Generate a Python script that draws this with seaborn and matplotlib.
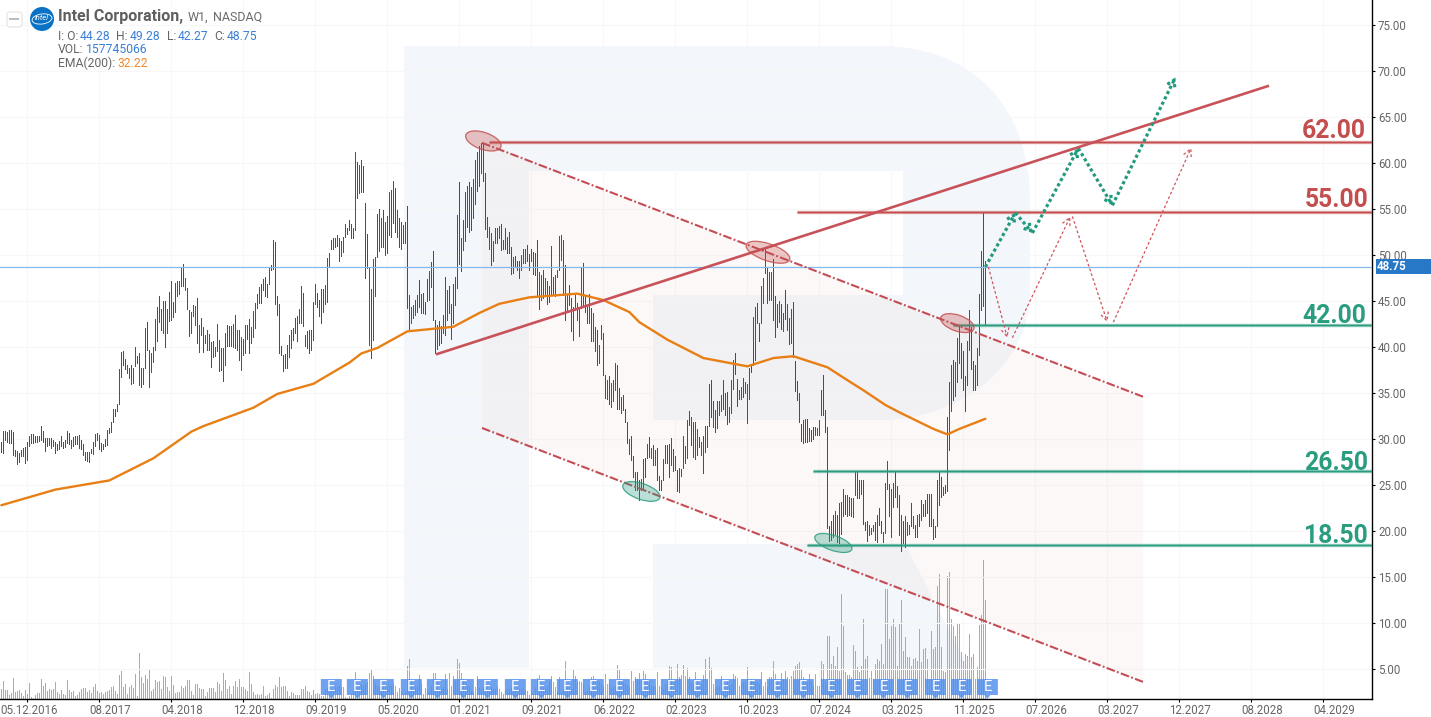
import numpy as np
import matplotlib
matplotlib.use("Agg")
import matplotlib.pyplot as plt
import seaborn as sns
from matplotlib.patches import PathPatch, Polygon, Ellipse, Rectangle, Circle, FancyBboxPatch
from matplotlib.path import Path
from matplotlib.transforms import Affine2D, IdentityTransform

# ---------- weekly bars (high / low / direction) ----------
highs_1 = [29.7,30.9,30.9,30.8,31.0,31.0,30.8,28.8,28.7,28.5,
           28.8,29.0,29.1,29.7,30.3,30.5,30.5,30.3,30.3,30.3,
           31.4,30.9,30.1,30.1,30.1,30.1,29.9,29.7,29.5,29.8,
           30.3,29.7,29.9,30.9,30.7,29.9,30.2,30.3,30.3,30.4,
           29.9,29.5,28.6,28.6,28.6,28.9,29.7,30.5,30.6,30.4,
           29.6,29.5,30.0,31.0,31.2,31.8,33.3,33.3,33.8,37.6,
           39.5,39.6,38.7,38.0,37.7,38.0,37.7,40.0,39.0,39.3,
           37.7,37.7,42.1,42.7,39.7,39.4,40.0,43.0,44.3,45.5,
           44.1,45.0,45.0,44.1,46.0,47.2,44.9,47.0,47.2,47.2,
           48.6,49.0,47.5,46.4,44.0,43.8,44.6,44.5,45.3,42.4,
           43.2,42.2,41.3,41.9,41.4,40.5,40.6,40.0,42.5,40.8,
           39.9,39.9,41.5,42.4,42.3,42.3,42.5,43.5,41.9,41.9,
           41.1,40.9,42.4,42.4,43.0,42.2,43.9,44.8,45.8,46.5,
           46.8,47.4,47.6,46.8,48.7,48.9,51.6,51.4,45.5,44.7,
           40.1,39.1,39.2,40.2,41.3,41.9,42.1,43.1,43.4,44.1,
           46.6,45.9,41.3,41.7,41.8,41.9,44.9,46.8,45.9,45.1,
           46.3,46.3,46.7,49.7,50.2,51.6]
lows_1 = [28.6,28.5,29.9,29.7,29.6,29.6,28.3,28.2,27.3,27.5,
          28.1,28.2,27.4,27.7,29.2,29.6,29.6,29.7,29.7,29.8,
          29.9,29.7,28.7,29.2,29.3,29.0,29.2,28.5,28.8,28.9,
          29.2,29.0,29.1,29.6,29.5,29.0,29.2,29.5,29.5,29.0,
          28.9,28.3,27.7,27.6,27.5,28.5,28.4,29.2,29.9,28.9,
          28.7,28.9,29.2,29.3,30.7,30.8,31.9,32.5,33.0,33.8,
          36.7,38.0,37.6,37.2,36.6,36.0,36.1,37.9,38.3,35.9,
          35.7,36.0,37.7,39.7,35.6,37.3,38.4,39.7,40.6,42.7,
          41.8,41.5,40.0,41.5,42.8,42.9,43.3,43.8,45.5,45.8,
          46.6,46.6,46.2,44.1,41.2,41.5,43.4,42.4,40.4,39.5,
          41.3,39.5,40.4,39.7,39.7,37.8,38.9,39.0,39.6,37.4,
          37.5,36.3,38.0,40.1,40.1,40.1,40.0,39.9,39.7,38.6,
          37.5,39.1,39.3,40.9,39.4,40.4,41.1,42.1,44.2,44.8,
          44.8,46.2,45.5,45.4,46.9,48.4,48.5,44.7,43.5,39.3,
          39.1,37.4,37.7,37.7,38.9,39.9,40.8,41.5,40.6,42.6,
          42.6,42.3,40.1,39.9,39.4,39.7,40.8,44.7,44.4,43.4,
          42.6,43.8,44.7,44.9,48.8,50.7]
moves_1 = ("rgrggrrrrg" "ggrgggrrgg" "grrggrgrrg" "grgrrggggg" "rrrggrggrr" "rggggggrgg"
           "grrgrrggrr" "rggrrggggr" "rgrgrgrggg" "grgrrgggrg" "grggrrgggr" "rgggrggrgr"
           "grgrrggggg" "rgrggrgrrr" "rgrgggrrgg" "grrrrgggrr" "rggggg")

highs_2 = [51.8,51.9,52.2,51.8,51.5,52.0,53.4,52.9,53.8,53.4,
           52.9,61.2,60.1,59.8,60.3,59.7,55.6,52.3,48.7,46.3,
           49.6,49.8,54.5,55.0,54.0,54.9,53.6,54.2,56.9,57.1,
           58.0,57.3,54.9,54.0,53.6,53.3,53.6,55.3,45.6,44.4,
           44.6,45.1,45.6,47.3,45.8,45.9,44.9,47.4,48.3,49.2,
           50.4,42.9,42.4,42.8,42.3,43.5,47.6,46.2,46.6,44.7,
           46.9,47.6,54.4,57.9,51.9,53.8,56.8,57.5,57.9,57.4,
           58.3,60.3,61.2,61.8,62.2]
lows_2 = [50.7,50.9,51.0,49.3,49.9,50.3,52.0,52.3,52.7,51.8,
          51.9,52.7,56.2,56.7,56.9,56.8,47.5,48.6,40.2,38.8,
          40.8,45.5,49.8,50.4,50.9,50.9,50.0,50.2,52.2,52.0,
          53.5,52.5,52.0,50.9,50.7,51.3,51.3,44.2,41.8,42.6,
          43.2,43.5,43.8,44.4,43.7,43.7,43.6,45.0,45.1,46.5,
          42.9,39.3,39.8,40.2,40.4,41.5,41.3,42.9,43.7,40.9,
          42.6,44.6,46.4,49.0,48.3,50.5,51.5,53.0,52.5,52.7,
          54.0,55.5,57.0,57.5,58.9]
moves_2 = ("rggrgggrrr" "ggrggrrrgr" "gggggrgrgr" "grgrgggrrg" "gggrggrggg"
           "rrgrrgggrg" "rggrrgggrr" "gggrg")

highs_3 = [62.1,58.9,54.1,53.0,52.4,51.5,52.9,52.9,53.2,53.4,
           51.6,52.9,52.0,52.5,50.9,49.8,49.9,49.3,49.3,50.0,
           50.6,50.6,51.1,50.1,50.7,50.3,50.2,51.6,48.2,47.8,
           48.4,47.5,47.2,46.6,51.0,47.6,47.8,48.4,52.1,52.2,
           51.6,48.9,45.6,46.7,45.3,44.4,45.8,44.8,44.4,48.6,
           49.1,45.6,44.6,45.8,44.2,43.7,42.2,41.9,40.2,42.4,
           41.5]
lows_3 = [58.0,52.8,52.0,50.7,48.9,49.3,51.3,51.3,51.8,50.5,
          50.6,50.7,50.2,50.2,47.9,48.0,48.8,48.4,47.5,48.4,
          49.1,49.1,49.3,48.4,49.3,47.9,47.8,45.5,44.1,45.1,
          45.3,45.5,44.7,44.9,45.6,45.6,45.5,47.6,48.4,49.5,
          45.7,42.9,44.0,44.6,41.7,40.8,44.0,42.9,41.2,44.2,
          44.6,43.8,42.6,42.6,40.7,40.7,39.6,38.0,38.3,40.9,
          37.0]
moves_3 = "rrrgrggggr" "ggrrrggrrg" "grrgrrgrrg" "rgrrgrgggg" "rrgrrggrgg" "rrrgrgrrgr" "r"

highs_4 = [37.0,36.4,36.8,36.1,36.4,38.3,38.0,35.5,34.6,34.8,
           33.3,31.9,30.0,30.3,28.2,26.4,26.4,25.5,25.7,27.8,
           27.9,29.5,30.2,29.0,29.4,28.8,29.0,26.0,25.5,27.8,
           29.4,29.4,29.5,30.1,28.9,28.1,26.6,26.8,26.7,30.3,
           29.2,32.1,33.0,32.4,31.9,31.9,31.1,30.2,29.7,30.3,
           31.4,31.4,36.0,36.4,34.1,33.2,34.1,34.1,34.8,36.4,
           35.0,35.1,33.5,36.4,38.6,39.4,36.5,35.3,35.7,36.6,
           36.2,36.0,37.7,38.0,43.3,44.3,44.8,42.6,46.6,47.5,
           50.7,48.7,48.1,48.1,49.6,45.5,44.7,45.0,44.7,43.7,
           46.2,44.7,43.1,44.1,44.9,38.5,36.3,35.0,31.6,32.1,
           32.2,32.2,31.2,31.0,31.3,31.3,31.2,32.1,35.3,37.0,
           33.2,31.3,20.5,21.1,21.7,22.2,21.7,23.0,23.1,24.6,
           23.9,23.9,23.7,23.6,23.6,26.5,26.4,25.5,25.5,25.5,
           21.0,21.1,20.6,20.3,20.6,21.0,21.7,22.5,21.1,19.9,
           25.2,27.6,25.1,24.6,25.2,26.4,24.9,23.9,21.7,21.1,
           21.6,21.0,20.7,23.0,21.6,20.7,21.7,21.9,23.4,22.9,
           23.4,24.0,24.0,24.0,21.3,20.5,25.5,26.5,25.9,24.8,
           25.0,32.4,36.2,38.0,38.6,38.4]
lows_4 = [34.5,34.4,33.8,33.5,34.1,35.3,33.3,33.3,32.8,33.2,
          31.8,29.6,28.4,27.7,25.9,24.5,24.5,23.4,24.5,24.6,
          25.9,27.9,28.0,27.9,27.2,27.2,25.5,24.5,24.5,25.5,
          27.4,27.4,25.9,27.2,26.5,26.6,24.4,24.2,26.0,26.8,
          27.4,27.9,31.5,29.4,28.0,27.8,28.3,29.1,28.3,26.3,
          28.6,29.1,31.4,32.4,31.3,30.8,31.2,32.6,33.0,33.3,
          32.6,31.6,31.9,32.8,35.4,37.1,33.6,34.4,34.3,34.6,
          35.0,31.7,34.4,37.3,38.0,38.6,42.6,40.7,42.6,44.8,
          48.0,44.8,45.1,45.1,42.9,41.1,42.2,42.7,42.0,41.7,
          43.0,41.9,40.3,40.4,38.9,35.2,34.2,31.8,29.8,29.6,
          29.7,29.7,29.8,29.8,30.0,30.4,30.4,30.4,32.6,32.6,
          30.8,20.3,18.9,19.0,19.4,19.7,18.8,18.7,19.7,21.6,
          21.9,21.6,21.7,21.6,21.5,23.9,23.6,23.6,24.0,20.8,
          20.1,18.9,19.6,19.7,20.0,19.0,18.8,20.7,19.8,18.8,
          19.8,24.6,21.6,19.4,22.6,23.7,22.6,19.6,17.8,18.7,
          18.3,19.6,19.7,20.5,20.3,19.4,19.4,20.5,21.2,21.6,
          21.6,22.0,20.5,20.5,19.1,19.4,20.5,22.8,23.7,23.9,
          24.1,24.3,28.8,33.0,34.2,34.7]
moves_4 = ("rgrgggrrgr" "rrgrrrrrgg" "rgrgrgrrrg" "grrgrgrggg" "rgrrgggrgr" "gggrgrgggr"
           "rrgggrrggr" "gggrgggrgg" "grggrrggrg" "rgrgrrrrrr" "rrgrrggggr" "rrrgrgrggg"
           "rgrgggrrgr" "rrgggrgrrg" "ggrgrrrrgr" "ggrrgrgrgg" "rgrrrgggrg" "rgggrg")

highs_5 = [41.0,42.4,40.4,39.6,36.8,40.6,44.0,42.2,38.5,38.0,39.9,45.8,50.4,54.6,49.3]
lows_5 = [36.2,38.3,36.6,35.3,33.0,35.9,39.7,37.6,35.3,35.3,35.9,39.1,44.0,44.5,42.4]
moves_5 = "ggrrrggrrrgggrg"

# ---------- volume (relative heights, axis carries no labels) ----------
volume_1 = [30,55,27,27,12,18,63,22,25,27,17,8,27,15,48,6,3,12,18,18,60,38,48,25,30,27,30,50,20,14,
            27,15,12,57,27,20,23,8,12,20,30,33,33,20,28,18,35,45,23,18,20,14,20,25,27,35,40,25,15,72,
            85,35,45,15,35,42,33,75,8,138,66,48,72,60,88,25,30,57,52,55,30,70,65,35,25,70,42,18,22,22,
            40,33,38,57,57,25,12,45,45,33,30,30,10,22,33,33,33,22,50,45,25,78,57,30,40,15,40,55,35,60,
            35,35,30,25,82,45,22,13,15,12,15,38,10,13,18,3,30,42,35,65,35,38,38,25,10,22,18,12,12,12,
            30,30,38,25,22,12,27,14]
volume_2 = [18,15,10,10,30,32,28,30,30,35,35,38,35,35,5,3,10,15,25,80,40,40,45,40,45,50,78,90,68,45,
            40,35,40,35,40,35,40,40,45,40,20,33,20,15,20,100,120,50,30,35,40,72,45,15,33,25,20,40,78,78,
            50,30,30,35,75,30,78,40,68,55,120,108,78,60,50,40,40,25,20,35,68,33,30,35,30,35,30,35,30,30,
            35,30,20,14,25,30,30,35,30,30,35,30,30,35,28,25,12,18,15,35,62,72,45,40,30,40,50,70,50,35,
            20,65]
volume_3 = [20,30,115,35,35,30,88,68,50,55,50,45,20,25,35,65,70,60,55,50,45,40,75,45,45,30,35,40,102,88,
            60,50,45,40,35,85,55,65,60,78,55,85,75,60,50,40,40,40,82,40,35,30,45,55,98,95,50,55,105,65,
            72,102,70,92,65,50,45,80,50,45,45,72,120,60,125,92,45,35,35,40,70,50,45,50,40,45,75,68,62,40,
            45,50,50,95,50,60,52,50,50,45,82,40,50,35,65,65,115,75,50,40,78,60,85,65,60,70,85,100,105,110]
volume_4 = [90,65,60,50,75,50,40,75,40,40,115,105,50,190,190,105,130,100,157,85,315,218,80,72,72,65,163,145,95,80,
            100,240,120,130,62,85,60,105,120,115,165,105,330,330,180,220,240,215,100,225,297,145,185,125,125,100,120,123,115,210,
            110,150,152,120,60,205,150,155,340,375,155,85,80,370,380,240,220,190,225,225,140,115,135,130,195,125,135,60,95,222,
            253,418,298]

# ---------- EMA(200) ----------
ema_weeks = [0,27,54,76,95,101,126,138,156,174,180,188,203,226,239,249,264,288,301,314,319,333,351,373,386,396,413,423,431,442,449,466,473,479,492]
ema_values = [22.8,24.5,25.5,27.9,30.8,31.4,33.4,34.9,36.0,38.3,39.3,39.9,41.7,42.2,43.7,44.7,45.4,45.8,45.1,43.8,42.7,40.8,38.8,37.9,38.8,39.0,37.8,36.4,35.3,33.7,32.9,31.1,30.5,31.1,32.2]

# ---------- analyst drawings ----------
level_starts = [244, 398, 476, 406, 403]
level_prices = [62.3, 54.7, 42.4, 26.5, 18.5]
level_names = ["62.00", "55.00", "42.00", "26.50", "18.50"]
level_colors = ["#c44d4d", "#c44d4d", "#2a9d80", "#2a9d80", "#2a9d80"]
level_label_right = [1366, 1368, 1366, 1368, 1368]
level_label_base = [138, 207, 323, 470, 543]
trend_weeks = [217.3, 633.8]
trend_prices = [39.2, 68.4]
channel_weeks = [240.3, 570.8]
channel_upper = [62.2, 34.6]
channel_lower = [31.2, 3.6]
oval_weeks = [241, 383.3, 478, 320, 416]
oval_prices = [62.4, 50.3, 42.6, 24.3, 18.7]
oval_sizes = [(37, 17), (46, 17), (35, 16), (39, 16), (39, 15)]
oval_colors = ["#c44d4d", "#c44d4d", "#c44d4d", "#2a9d80", "#2a9d80"]
path_weeks = [492, 507, 515.5, 538.5, 555.5, 587]
path_prices = [48.7, 54.6, 52.4, 61.6, 55.4, 69.3]
alt_segments = [((493.5, 48.7), (503, 41.0)), ((505.5, 41.0), (534.5, 54.2)),
                ((535.5, 54.2), (553, 42.7)), ((556, 42.7), (595, 61.7))]
earnings_weeks = [165,178,191,205,218,231,243,257,270,283,296,309,322,335,348,362,375,388,401,415,428,441,453,467,480,493]

tick_weeks = list(range(13, 13 + 36 * 19, 36))
tick_labels = ["05.12.2016","08.2017","04.2018","12.2018","09.2019","05.2020","01.2021","09.2021","06.2022",
               "02.2023","10.2023","07.2024","03.2025","11.2025","07.2026","03.2027","12.2027","08.2028","04.2029"]
price_ticks = list(range(5, 80, 5))
last_close = 48.75

# ---------- assemble ----------
highs = highs_1 + highs_2 + highs_3 + highs_4 + highs_5
lows = lows_1 + lows_2 + lows_3 + lows_4 + lows_5
moves = moves_1 + moves_2 + moves_3 + moves_4 + moves_5
volume = volume_1 + volume_2 + volume_3 + volume_4
n = min(len(highs), len(lows), len(moves))
weeks = np.arange(n)
bar_colors = ["#b3231a" if m == "r" else "#17781f" for m in moves[:n]]

W, H = 1431, 717
sns.set_theme(style="white")
plt.rcParams["font.family"] = ["Roboto", "DejaVu Sans"]
fig = plt.figure(figsize=(W / 100, H / 100), dpi=100, facecolor="white")
PX = Affine2D().scale(1, -1).translate(0, H)

ax2 = fig.add_axes([0, (H - 699) / H, 1372 / W, 699 / H])
ax = fig.add_axes([0, (H - 699) / H, 1372 / W, 699 / H], sharex=ax2)
ax.patch.set_visible(False)
ax.set_xlim(-0.665, 685.3)
ax.set_ylim(1.74, 77.72)
ax2.set_ylim(0, 2097)
ax2.set_yticks([])
ax2.tick_params(bottom=False, labelbottom=False)
for a in (ax, ax2):
    for s in a.spines.values():
        s.set_visible(False)

# grid
for w in tick_weeks:
    ax2.axvline(w, color="#f8f8f8", lw=0.8, zorder=0)
for p in price_ticks:
    ax.axhline(p, color="#f7f7f7", lw=0.8, zorder=0.1)

# faint logo watermark
MV, LN, CV, CL = Path.MOVETO, Path.LINETO, Path.CURVE4, Path.CLOSEPOLY
bowl = [((404, 46), MV), ((880, 46), LN), ((975, 46), CV), ((1030, 110), CV), ((1030, 200), CV),
        ((1030, 290), LN), ((1030, 370), CV), ((955, 420), CV), ((880, 420), CV),
        ((653, 420), LN), ((653, 295), LN), ((903, 295), LN), ((903, 171), LN), ((529, 171), LN),
        ((529, 668), LN), ((404, 668), LN), ((404, 46), CL)]
verts, codes = zip(*bowl)
ax2.add_patch(PathPatch(Path(verts, codes), fc="#f3f6fa", ec="none", transform=PX, zorder=0.5))
ax2.add_patch(Polygon([(653, 544), (905, 544), (968, 668), (653, 668)], fc="#f3f6fa", ec="none",
                      transform=PX, zorder=0.5))

# volume
ax2.vlines(np.arange(len(volume)), 0, volume, color="#8fade6", lw=0.72, zorder=1, antialiased=False)

# channel
ax.fill_between(channel_weeks, channel_lower, channel_upper, color="#c44d4d", alpha=0.035, lw=0, zorder=1)

# price bars
ax.vlines(weeks, lows[:n], highs[:n], colors=bar_colors, lw=0.72, zorder=2, antialiased=False)

# EMA
sns.lineplot(x=ema_weeks, y=ema_values, ax=ax, color="#e87f14", lw=1.7, zorder=3, estimator=None, sort=False)
ax.set_xlabel("")
ax.set_ylabel("")

# last price line
ax.axhline(last_close, color="#85b8ec", lw=0.9, zorder=3)

# levels
for s, p, c, name, rx, by in zip(level_starts, level_prices, level_colors, level_names,
                                 level_label_right, level_label_base):
    ax.plot([s, 685.3], [p, p], color=c, lw=2.4, alpha=0.55, zorder=4, solid_capstyle="butt")
    ax.plot([s, 685.3], [p, p], color=c, lw=0.9, zorder=4, solid_capstyle="butt")
    ax.text(rx, by, name, color=c, transform=PX, ha="right", va="baseline", fontsize=17.8,
            fontweight="bold", zorder=8)

# trend + channel borders
ax.plot(trend_weeks, trend_prices, color="#c8525a", lw=1.9, zorder=4, solid_capstyle="butt")
for ys in (channel_upper, channel_lower):
    ax.plot(channel_weeks, ys, color="#c44d55", lw=1.5, ls=(0, (4.2, 1.1, 0.9, 1.1)), zorder=4)

# ovals
fig.canvas.draw()
for w, p, (ew, eh), c in zip(oval_weeks, oval_prices, oval_sizes, oval_colors):
    cx, cy = ax.transData.transform((w, p))
    ax.add_patch(Ellipse((cx, cy), ew, eh, angle=-19, fc=matplotlib.colors.to_rgba(c, 0.32),
                         ec=matplotlib.colors.to_rgba(c, 0.85), lw=0.9,
                         transform=IdentityTransform(), zorder=5))

# forecast paths
for i in range(len(path_weeks) - 1):
    ax.annotate("", xy=(path_weeks[i + 1], path_prices[i + 1]), xytext=(path_weeks[i], path_prices[i]),
                arrowprops=dict(arrowstyle="->,head_length=0.4,head_width=0.25", color="#239a7e", lw=2.3,
                                ls=(0, (1.0, 0.85)), capstyle="butt", joinstyle="miter",
                                shrinkA=0, shrinkB=0), zorder=6)
for a, b in alt_segments:
    ax.annotate("", xy=b, xytext=a,
                arrowprops=dict(arrowstyle="->,head_length=0.5,head_width=0.25", color="#d0555c", lw=0.9,
                                ls=(0, (2.2, 1.8)), capstyle="butt", shrinkA=0, shrinkB=0), zorder=6)

# earnings badges
for w in earnings_weeks:
    cx = ax.transData.transform((w, 0))[0]
    ax.add_patch(Polygon([(cx - 10.5, 679), (cx + 10.5, 679), (cx + 10.5, 695), (cx + 3, 695), (cx, 699),
                          (cx - 3, 695), (cx - 10.5, 695)], fc="#4f8fec", ec="none", alpha=0.82,
                         transform=PX, zorder=7, clip_on=False))
    ax.text(cx, 687, "E", color="white", fontsize=10.5, ha="center", va="center", transform=PX, zorder=8)

# axes decoration
ax.spines["right"].set_visible(True)
ax.spines["bottom"].set_visible(True)
ax.spines["right"].set_color("black")
ax.spines["bottom"].set_color("black")
ax.spines["right"].set_linewidth(1.0)
ax.spines["bottom"].set_linewidth(1.0)
ax.yaxis.tick_right()
ax.set_yticks(price_ticks)
ax.set_yticklabels([f"{p:.2f}" for p in price_ticks], fontsize=8.3, color="#666666")
ax.tick_params(axis="y", which="major", right=True, length=2.2, width=0.8, color="black", pad=2.1)
ax.set_xticks(tick_weeks)
ax.set_xticklabels(tick_labels, fontsize=8.3, color="#666666", ha="left")
ax.tick_params(axis="x", which="major", bottom=True, length=2.0, width=0.8, color="black", pad=1.6)
for i, lab in enumerate(ax.get_xticklabels()):
    lab.set_transform(lab.get_transform() + Affine2D().translate(-27 if i == 0 else -10, 0))

# price tag
fig.add_artist(Rectangle((1376, 259), 55, 15, fc="#2878c8", ec="none", transform=PX, zorder=9))
fig.text(1377, 267, f"{last_close:.2f}", color="white", fontsize=8.3, fontweight="bold", ha="left", va="center",
         transform=PX, zorder=10)

# header
def hdr(x, y, s, c="#666666", size=8.7, weight="normal"):
    fig.text(x, y, s, color=c, fontsize=size, fontweight=weight, ha="left", va="center", transform=PX, zorder=10)

fig.add_artist(FancyBboxPatch((7, 12), 15, 15, boxstyle="round,pad=0,rounding_size=3", fc="white", ec="#e6e6e6",
                              lw=0.9, transform=PX, zorder=9))
fig.add_artist(Rectangle((9, 18), 10, 1.6, fc="#bdbdbd", ec="none", transform=PX, zorder=10))
fig.add_artist(Circle((42, 19), 12, fc="#0a72c6", ec="none", transform=PX, zorder=9))
fig.add_artist(Ellipse((42, 19), 20, 10, angle=-8, fc="none", ec="white", lw=0.6, transform=PX, zorder=10))
fig.text(42, 18.5, "intel", color="white", fontsize=5.5, style="italic", ha="center", va="center", transform=PX, zorder=11)
hdr(58, 16, "Intel Corporation,", c="#5f5f5f", size=11.5, weight="bold")
hdr(188, 17, "W1,", c="#6a6a6a", size=9)
hdr(213, 17, "NASDAQ", c="#6a6a6a", size=9)
blue = "#3a7fd5"
hdr(58, 36, "I: O:")
hdr(80, 36, "44.28", blue)
hdr(116, 36, "H:")
hdr(130, 36, "49.28", blue)
hdr(166.5, 36, "L:")
hdr(178, 36, "42.27", blue)
hdr(214, 36, "C:")
hdr(227, 36, "48.75", blue)
hdr(58, 49.5, "VOL:")
hdr(86.3, 49.5, "157745066", blue)
hdr(58, 63.5, "EMA(200):")
hdr(117, 63.5, "32.22", "#f0892b")

fig.savefig("out.png", dpi=100, facecolor="white")
